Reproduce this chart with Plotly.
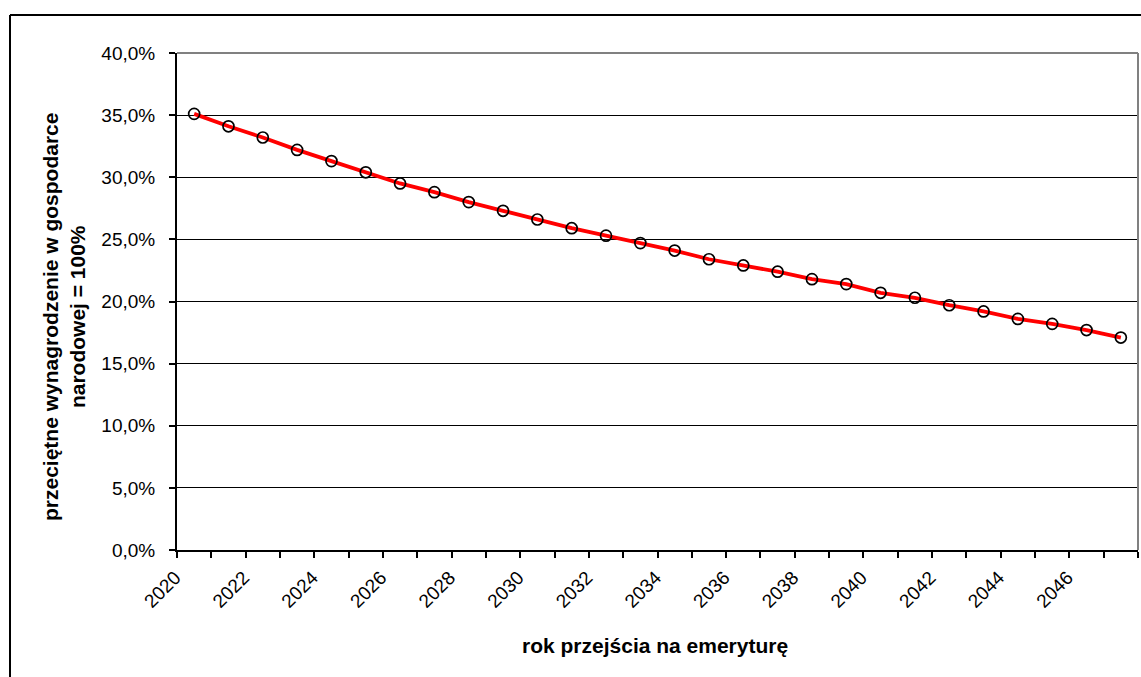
import plotly.graph_objects as go

# Replacement rate by year of retirement (average national wage = 100%)
years = list(range(2020, 2048))
rate_pct = [35.1, 34.1, 33.2, 32.2, 31.3, 30.4, 29.5, 28.8, 28.0, 27.3,
            26.6, 25.9, 25.3, 24.7, 24.1, 23.4, 22.9, 22.4, 21.8, 21.4,
            20.7, 20.3, 19.7, 19.2, 18.6, 18.2, 17.7, 17.1]

x_tick_years = list(range(2020, 2047, 2))
x_tick_text = [str(y) for y in x_tick_years]
y_tick_vals = [0, 5, 10, 15, 20, 25, 30, 35, 40]
y_tick_text = ["0,0%", "5,0%", "10,0%", "15,0%", "20,0%", "25,0%", "30,0%", "35,0%", "40,0%"]

x_title = "rok przejścia na emeryturę"
y_title = "przeciętne wynagrodzenie w gospodarce<br>narodowej = 100%"

W, H = 1141, 677
L, R, T, B = 177, 3, 53, 127
pw, ph = W - L - R, H - T - B


def px_x(p):
    return (p - L) / pw


def px_y(p):
    return (H - B - p) / ph


tick_font = dict(family="Liberation Sans, Arial, sans-serif", size=19, color="black")
title_font = dict(family="Liberation Sans, Arial, sans-serif", size=21, color="black", weight="bold")

fig = go.Figure()
fig.add_trace(go.Scatter(
    x=years, y=rate_pct, mode="lines+markers",
    line=dict(color="#ff0000", width=3.8),
    marker=dict(symbol="circle-open", size=11, color="black", line=dict(width=1.7)),
    showlegend=False, hoverinfo="x+y",
))

fig.update_xaxes(
    range=[2019.5, 2047.5], tickmode="array", tickvals=x_tick_years, ticktext=x_tick_text,
    tickangle=-45, ticks="", showgrid=False, zeroline=False,
    showline=True, linecolor="black", linewidth=2,
    tickfont=tick_font, ticklabelstandoff=7, ticklabelshift=-19,
    minor=dict(ticks="outside", tick0=2019.5, dtick=1, ticklen=6, tickwidth=1.5,
               tickcolor="black", showgrid=False),
)
fig.update_yaxes(
    range=[0, 40], tickmode="array", tickvals=y_tick_vals, ticktext=y_tick_text,
    ticks="outside", ticklen=6, tickwidth=1.5, tickcolor="black",
    showgrid=True, gridcolor="black", gridwidth=1.3, zeroline=False,
    showline=True, linecolor="black", linewidth=2,
    tickfont=tick_font, ticklabelstandoff=10,
)

shapes = [
    # plot area border (top and right)
    dict(type="line", xref="paper", yref="paper", x0=0, x1=1, y0=1, y1=1,
         line=dict(color="#808080", width=2), layer="above"),
    dict(type="line", xref="paper", yref="paper", x0=1, x1=1, y0=0, y1=1,
         line=dict(color="#808080", width=2), layer="above"),
    # chart frame
    dict(type="line", xref="paper", yref="paper", x0=px_x(10), x1=px_x(10),
         y0=px_y(15), y1=px_y(H + 5), line=dict(color="black", width=2)),
    dict(type="line", xref="paper", yref="paper", x0=px_x(10), x1=px_x(W + 5),
         y0=px_y(15), y1=px_y(15), line=dict(color="black", width=2)),
]

annotations = [
    dict(text=x_title, xref="paper", yref="paper", x=px_x(655), y=px_y(645),
         showarrow=False, font=title_font, xanchor="center", yanchor="middle"),
    dict(text=y_title, xref="paper", yref="paper", x=px_x(64), y=px_y(317),
         showarrow=False, font=title_font, textangle=-90,
         xanchor="center", yanchor="middle"),
]

fig.update_layout(
    width=W, height=H, margin=dict(l=L, r=R, t=T, b=B, autoexpand=False),
    plot_bgcolor="white", paper_bgcolor="white",
    shapes=shapes, annotations=annotations,
)

fig.write_html("out.html")
